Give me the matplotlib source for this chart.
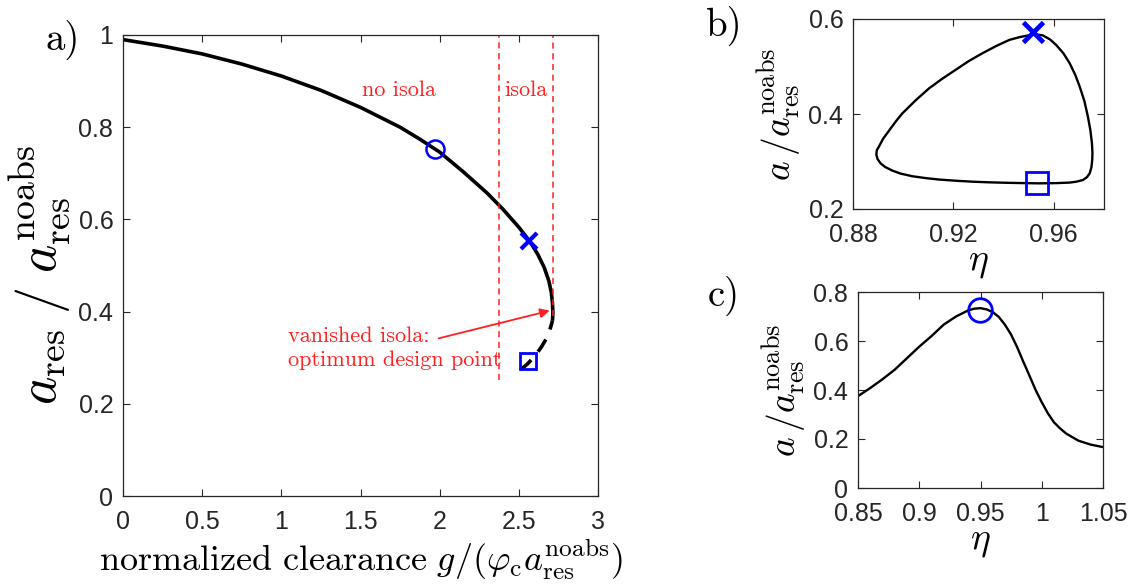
import matplotlib
matplotlib.use("Agg")
import matplotlib.pyplot as plt

plt.rcParams["mathtext.fontset"] = "cm"
plt.rcParams["font.family"] = ["Liberation Sans", "DejaVu Sans"]

# ---- panel a: resonance amplitude vs normalized clearance ----
clear_solid = [0.0, 0.25, 0.5, 0.75, 1.0, 1.25, 1.5, 1.75, 1.875, 2.0, 2.15, 2.3, 2.4,
               2.5, 2.57, 2.62, 2.66, 2.69, 2.705, 2.712, 2.715, 2.714, 2.712]
amp_solid = [0.990, 0.976, 0.959, 0.937, 0.911, 0.880, 0.843, 0.800, 0.774, 0.746, 0.703,
             0.657, 0.622, 0.583, 0.552, 0.524, 0.496, 0.466, 0.442, 0.420, 0.400, 0.388,
             0.380]
clear_dash = [2.712, 2.70, 2.675, 2.64, 2.60, 2.55, 2.50, 2.46]
amp_dash = [0.380, 0.365, 0.342, 0.322, 0.303, 0.285, 0.271, 0.262]

circle_a = (1.969, 0.752)
cross_a = (2.562, 0.554)
square_a = (2.560, 0.292)

isola_bounds = [2.374, 2.716]
isola_bottoms = [0.252, 0.39]

# ---- panel b: isola branch (closed loop) ----
eta_b = [0.9503, 0.9530, 0.9556, 0.9585, 0.9610, 0.9638, 0.9663, 0.9685, 0.9703, 0.9722,
         0.9736, 0.9746, 0.9752, 0.9754, 0.9753, 0.9750, 0.9743, 0.9732, 0.9716, 0.9690,
         0.9663, 0.9610, 0.9543, 0.9480, 0.9410, 0.9340, 0.9276, 0.9210, 0.9143, 0.9090,
         0.9036, 0.8990, 0.8956, 0.8928, 0.8910, 0.8898, 0.8893, 0.8895, 0.8903, 0.8920,
         0.8945, 0.8970, 0.8996, 0.9050, 0.9103, 0.9155, 0.9209, 0.9260, 0.9316, 0.9370,
         0.9423, 0.9465, 0.9503]
amp_b = [0.566, 0.5675, 0.5655, 0.557, 0.545, 0.528, 0.507, 0.483, 0.458, 0.427,
         0.394, 0.365, 0.338, 0.318, 0.303, 0.288, 0.275, 0.267, 0.261, 0.2575,
         0.2556, 0.2545, 0.254, 0.2545, 0.2552, 0.2562, 0.2575, 0.2595, 0.262, 0.265,
         0.269, 0.2745, 0.281, 0.2885, 0.296, 0.305, 0.314, 0.324, 0.331, 0.348,
         0.366, 0.384, 0.401, 0.429, 0.454, 0.474, 0.493, 0.511, 0.528, 0.543,
         0.556, 0.562, 0.566]
cross_b = (0.9516, 0.572)
square_b = (0.9532, 0.254)

# ---- panel c: frequency response ----
eta_c = [0.85, 0.86, 0.87, 0.88, 0.89, 0.90, 0.91, 0.92, 0.93, 0.94, 0.945, 0.95,
         0.955, 0.96, 0.965, 0.97, 0.975, 0.98, 0.985, 0.99, 0.995, 1.00, 1.005,
         1.01, 1.015, 1.02, 1.03, 1.04, 1.05]
amp_c = [0.375, 0.408, 0.444, 0.483, 0.530, 0.577, 0.620, 0.667, 0.700, 0.725, 0.732,
         0.734, 0.729, 0.718, 0.698, 0.666, 0.626, 0.574, 0.515, 0.458, 0.400, 0.350,
         0.305, 0.268, 0.243, 0.222, 0.193, 0.177, 0.167]
circle_c = (0.9499, 0.726)

TXT = "#262626"
BLUE = "#0000ff"
RED = "#ff2020"
SERIF = "cmr10"
W, H = 1133, 588

fig = plt.figure(figsize=(W / 100, H / 100), dpi=100)


def add_axes(l, t, r, b):
    return fig.add_axes([l / W, 1 - b / H, (r - l) / W, (b - t) / H])


def style(ax, xt, xl, yt, yl, size):
    ax.set_xticks(xt)
    ax.set_xticklabels(xl)
    ax.set_yticks(yt)
    ax.set_yticklabels(yl)
    ax.tick_params(direction="in", top=True, right=True, length=5, width=0.8,
                   colors=TXT, labelsize=size, pad=7)
    ax.tick_params(axis="x", pad=10)
    for s in ax.spines.values():
        s.set_color(TXT)
        s.set_linewidth(0.9)


# panel a
axa = add_axes(123, 35, 598, 496)
axa.plot(clear_solid, amp_solid, color="black", lw=2.6, solid_capstyle="butt")
axa.plot(clear_dash, amp_dash, color="black", lw=2.6, ls=(1.5, (4, 3)))
for xv, yb in zip(isola_bounds, isola_bottoms):
    axa.plot([xv, xv], [yb, 1.0], color=RED, lw=1.1, ls=(0, (4, 3)))
axa.plot(*circle_a, marker="o", ms=13, mfc="none", mec=BLUE, mew=1.8)
axa.plot(*cross_a, marker="x", ms=12, mec=BLUE, mew=3)
axa.plot(*square_a, marker="s", ms=12, mfc="none", mec=BLUE, mew=2)
axa.text(1.744, 0.881, "no isola", family=SERIF, color=RED, fontsize=16,
         ha="center", va="center")
axa.text(2.544, 0.881, "isola", family=SERIF, color=RED, fontsize=16,
         ha="center", va="center")
axa.annotate("", xy=(2.695, 0.402), xytext=(1.994, 0.342),
             arrowprops=dict(arrowstyle="-|>", color=RED, lw=1.3,
                             mutation_scale=14, shrinkA=0, shrinkB=0))
axa.text(1.043, 0.333, "vanished isola:", family=SERIF, color=RED, fontsize=16,
         ha="left", va="baseline")
axa.text(1.043, 0.282, "optimum design point", family=SERIF, color=RED, fontsize=16,
         ha="left", va="baseline")
axa.set_xlim(0, 3)
axa.set_ylim(0, 1)
style(axa, [0, 0.5, 1, 1.5, 2, 2.5, 3], ["0", "0.5", "1", "1.5", "2", "2.5", "3"],
      [0, 0.2, 0.4, 0.6, 0.8, 1], ["0", "0.2", "0.4", "0.6", "0.8", "1"], 18)
axa.set_xlabel(r"$\mathrm{normalized\ clearance}\ g/(\varphi_\mathrm{c}a_\mathrm{res}^\mathrm{noabs})$",
               fontsize=26, color="black", labelpad=2)
axa.set_ylabel(r"$a_\mathrm{res}\;/\;a_\mathrm{res}^\mathrm{noabs}$", fontsize=39,
               color="black")
axa.yaxis.set_label_coords(-0.106, 0.479)

# panel b
axb = add_axes(853, 19, 1104, 209)
axb.plot(eta_b, amp_b, color="black", lw=1.7)
axb.plot(*cross_b, marker="x", ms=15, mec=BLUE, mew=3.4)
axb.plot(*square_b, marker="s", ms=16, mfc="none", mec=BLUE, mew=2)
axb.set_xlim(0.88, 0.98)
axb.set_ylim(0.2, 0.6)
style(axb, [0.88, 0.92, 0.96], ["0.88", "0.92", "0.96"],
      [0.2, 0.4, 0.6], ["0.2", "0.4", "0.6"], 18)
axb.set_xlabel(r"$\eta$", fontsize=27, color="black", labelpad=-2)
axb.set_ylabel(r"$a\,/a_\mathrm{res}^\mathrm{noabs}$", fontsize=27, color="black",
               labelpad=4)

# panel c
axc = add_axes(858, 292, 1103, 488)
axc.plot(eta_c, amp_c, color="black", lw=1.7)
axc.plot(*circle_c, marker="o", ms=17, mfc="none", mec=BLUE, mew=2)
axc.set_xlim(0.85, 1.05)
axc.set_ylim(0, 0.8)
style(axc, [0.85, 0.9, 0.95, 1.0, 1.05], ["0.85", "0.9", "0.95", "1", "1.05"],
      [0, 0.2, 0.4, 0.6, 0.8], ["0", "0.2", "0.4", "0.6", "0.8"], 18)
axc.set_xlabel(r"$\eta$", fontsize=27, color="black", labelpad=-2)
axc.set_ylabel(r"$a\,/a_\mathrm{res}^\mathrm{noabs}$", fontsize=27, color="black",
               labelpad=4)

# panel letters
fig.text(63 / W, 1 - 40 / H, "a)", family=SERIF, fontsize=28, ha="center", va="center")
fig.text(724 / W, 1 - 26 / H, "b)", family=SERIF, fontsize=28, ha="center", va="center")
fig.text(724 / W, 1 - 296 / H, "c)", family=SERIF, fontsize=28, ha="center", va="center")

fig.savefig("out.png", dpi=100)
